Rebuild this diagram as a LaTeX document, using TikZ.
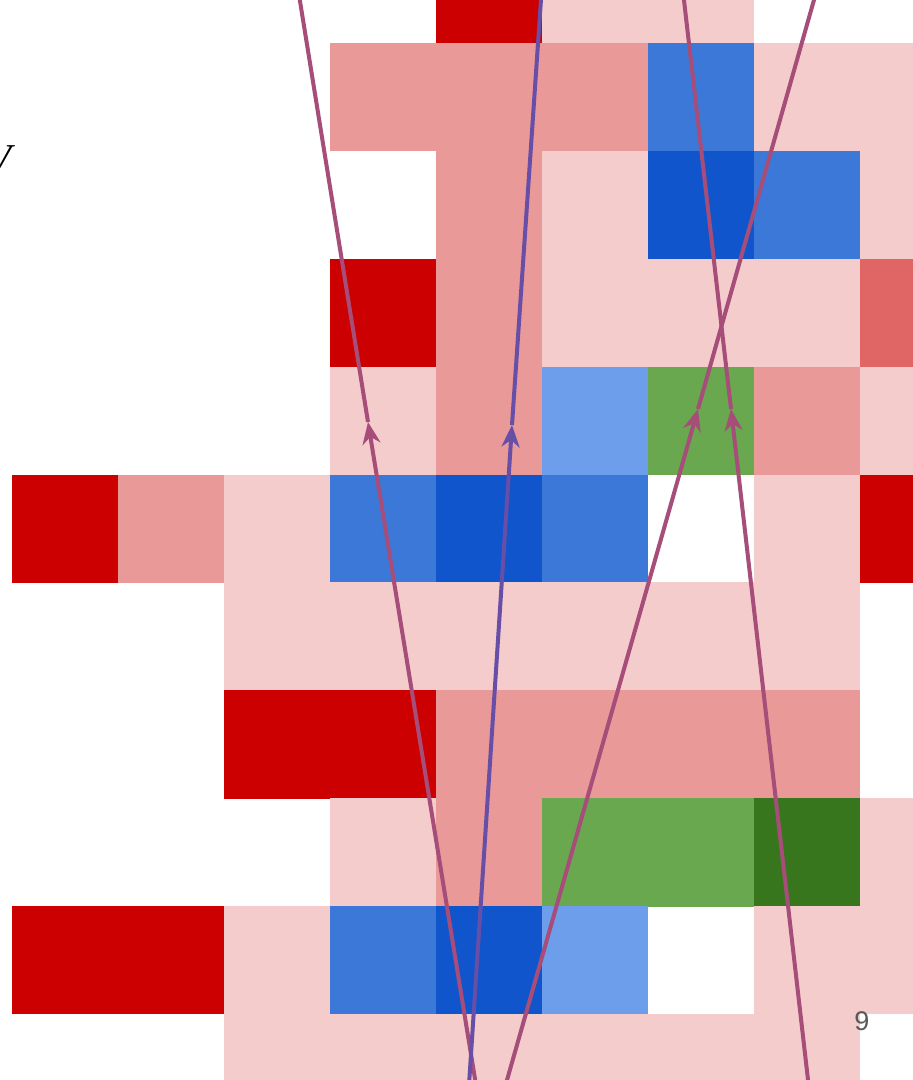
\documentclass[tikz,border=0pt]{standalone}
\usepackage{fontspec}
\newfontfamily\labelfont{Liberation Sans}
\newfontfamily\vletfont{Liberation Serif}
\usetikzlibrary{arrows.meta}
\definecolor{cR}{HTML}{CC0000}
\definecolor{cMP}{HTML}{EA9999}
\definecolor{cLP}{HTML}{F4CCCC}
\definecolor{cSR}{HTML}{E06666}
\definecolor{cB}{HTML}{3C78D8}
\definecolor{cDB}{HTML}{1155CC}
\definecolor{cLB}{HTML}{6D9EEB}
\definecolor{cG}{HTML}{6AA84F}
\definecolor{cDG}{HTML}{38761D}
\definecolor{cMag}{HTML}{A64D79}
\definecolor{cPur}{HTML}{674EA7}
\definecolor{cTxt}{HTML}{595959}
\tikzset{
  gridcell/.style={fill=#1, draw=none},
  ray/.style={line width=4pt, draw=#1},
  raytip/.style={-{Stealth[length=22pt,width=18pt,inset=7pt]}},
}
\begin{document}
\begin{tikzpicture}[x=1pt,y=-1pt]
\useasboundingbox (0,0) rectangle (913,1080);
\fill[white] (0,0) rectangle (913,1080);
\begin{scope}
\clip (0,0) rectangle (913,1080);
\foreach \c/\r/\col in {
  4/0/cR,5/0/cLP,6/0/cLP,
  3/1/cMP,4/1/cMP,5/1/cMP,6/1/cB,7/1/cLP,8/1/cLP,
  4/2/cMP,5/2/cLP,6/2/cDB,7/2/cB,8/2/cLP,
  3/3/cR,4/3/cMP,5/3/cLP,6/3/cLP,7/3/cLP,8/3/cSR,
  3/4/cLP,4/4/cMP,5/4/cLB,6/4/cG,7/4/cMP,8/4/cLP,
  0/5/cR,1/5/cMP,2/5/cLP,3/5/cB,4/5/cDB,5/5/cB,7/5/cLP,8/5/cR,
  2/6/cLP,3/6/cLP,4/6/cLP,5/6/cLP,6/6/cLP,7/6/cLP,
  2/7/cR,3/7/cR,4/7/cMP,5/7/cMP,6/7/cMP,7/7/cMP,
  3/8/cLP,4/8/cMP,5/8/cG,6/8/cG,7/8/cDG,8/8/cLP,
  0/9/cR,1/9/cR,2/9/cLP,3/9/cB,4/9/cDB,5/9/cLB,7/9/cLP,8/9/cLP,
  2/10/cLP,3/10/cLP,4/10/cLP,5/10/cLP,6/10/cLP,7/10/cLP}
{
  \fill[gridcell=\col] ({12+106*\c},{-65+107.9*\r}) rectangle ++(106.4,108.3);
}

\node[anchor=base east, inner sep=0pt, font=\vletfont\itshape\fontsize{41}{41}\selectfont] (vlab) at (12,172) {V};
\node[inner sep=0pt, text=cTxt, font=\labelfont\fontsize{27}{27}\selectfont] (pnum) at (862,1021) {9};

% rays
\coordinate (a0) at (476,1085);
\coordinate (a1) at (368,422);
\coordinate (a2) at (299,-5);
\coordinate (b0) at (469,1085);
\coordinate (b1) at (512,425);
\coordinate (b2) at (541.3,-5);
\coordinate (c0) at (505.6,1085);
\coordinate (c1) at (698,409);
\coordinate (c2) at (815.4,-5);
\coordinate (d0) at (808.6,1085);
\coordinate (d1) at (731,409);
\coordinate (d2) at (683.4,-5);

\draw[ray=cMag, raytip] (a0) -- (a1);
\draw[ray=cMag] (a1) -- (a2);
\draw[ray=cPur, raytip] (b0) -- (b1);
\draw[ray=cPur] (b1) -- (b2);
\draw[ray=cMag, raytip] (c0) -- (c1);
\draw[ray=cMag] (c1) -- (c2);
\draw[ray=cMag, raytip] (d0) -- (d1);
\draw[ray=cMag] (d1) -- (d2);
\end{scope}
\end{tikzpicture}
\end{document}
